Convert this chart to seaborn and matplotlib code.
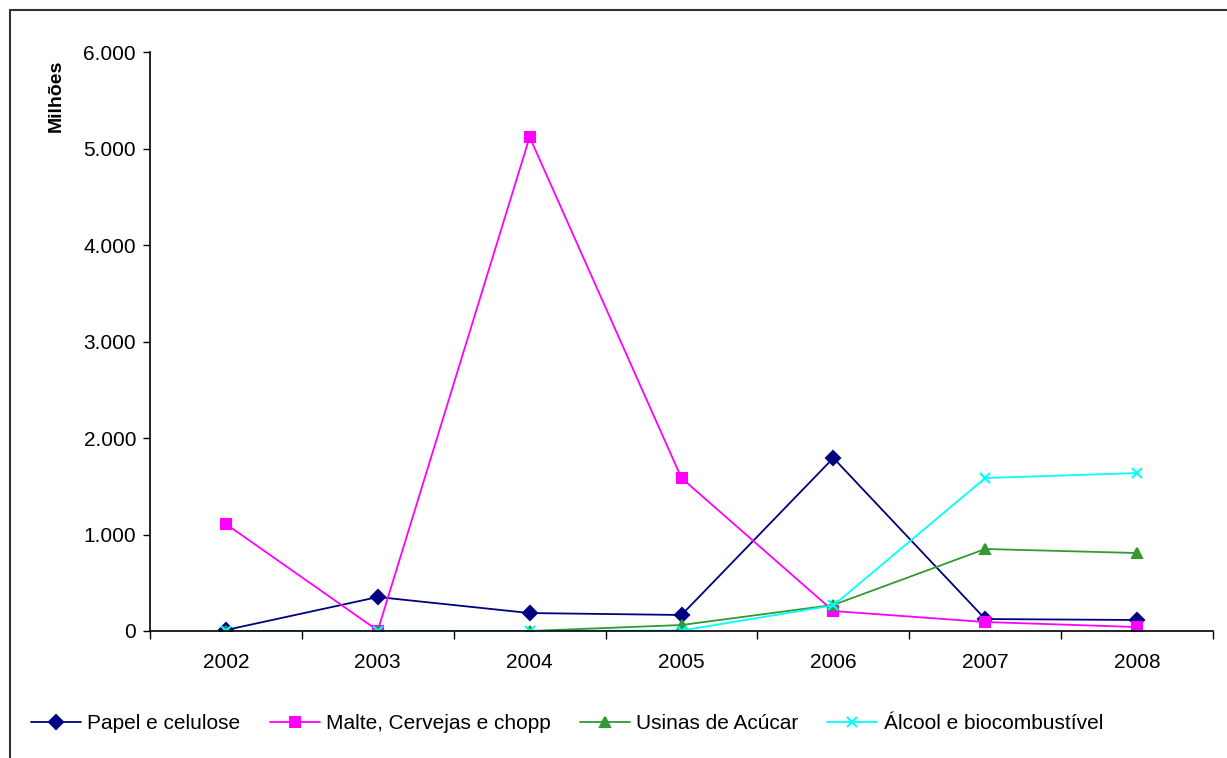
import pandas as pd
import matplotlib.pyplot as plt
import matplotlib.patches as mpatches
from matplotlib.ticker import FuncFormatter
import seaborn as sns

years = ['2002', '2003', '2004', '2005', '2006', '2007', '2008']
series_names = ['Papel e celulose', 'Malte, Cervejas e chopp', 'Usinas de Acúcar', 'Álcool e biocombustível']
papel = [10, 352, 186, 166, 1793, 124, 114]
malte = [1109, 5, 5119, 1585, 207, 93, 41]
usinas = [0, 0, 0, 62, 270, 850, 808]
alcool = [0, 0, 0, 5, 265, 1585, 1637]

colors = ['#000080', '#FF00FF', '#339933', '#00FFFF']
markers = ['D', 's', '^', 'x']

sns.set_style('white')
plt.rcParams['font.family'] = ['Liberation Sans', 'DejaVu Sans']

fig = plt.figure(figsize=(12.27, 7.58), dpi=100)
ax = fig.add_axes([150 / 1227, 1 - 631 / 758, (1213 - 150) / 1227, (631 - 52) / 758])

pos = list(range(len(years)))
for name, vals, c, m in zip(series_names, [papel, malte, usinas, alcool], colors, markers):
    sns.lineplot(x=pos, y=vals, color=c, marker=m, markersize=7, linewidth=1.3,
                 markeredgecolor=c, markeredgewidth=1.5, ax=ax, label=name, legend=False)

ax.set_xlim(-0.5, 6.5)
ax.set_ylim(0, 6000)
ax.set_yticks(range(0, 6001, 1000))
ax.yaxis.set_major_formatter(FuncFormatter(lambda v, p: f'{int(v):,}'.replace(',', '.')))
ax.set_xticks(pos)
ax.set_xticklabels(years)
ax.set_xticks([i + 0.5 for i in range(-1, 7)], minor=True)
ax.tick_params(axis='x', which='major', bottom=True, length=0, pad=16, labelsize=15)
ax.tick_params(axis='x', which='minor', bottom=True, length=6, direction='out', width=1,
               color='black')
ax.tick_params(axis='y', left=True, length=5, direction='out', width=1, labelsize=15,
               pad=5, color='black')
for lbl in ax.get_yticklabels() + ax.get_xticklabels():
    lbl.set_color('black')

sns.despine(ax=ax)
ax.spines['left'].set_color('black')
ax.spines['bottom'].set_color('black')
ax.spines['left'].set_linewidth(1.2)
ax.spines['bottom'].set_linewidth(1.2)
ax.set_xlabel('')
ax.set_ylabel('Milhões', fontsize=14, fontweight='bold', color='black')
ax.yaxis.set_label_coords(-0.08, 0.925)

handles = [plt.Line2D([], [], color=c, marker=m, markersize=7, linewidth=1.3,
                      markeredgecolor=c, markeredgewidth=1.5)
           for c, m in zip(colors, markers)]
fig.legend(handles, series_names, loc='center left', bbox_to_anchor=(0.010, 0.045),
           ncol=4, frameon=False, fontsize=15, handlelength=2.4, handletextpad=0.3,
           columnspacing=1.4, labelcolor='black')

border = mpatches.Rectangle((10 / 1227, -0.05), 1.1, 1 - 10 / 758 + 0.05,
                            transform=fig.transFigure, fill=False,
                            edgecolor='#333333', linewidth=1.5)
fig.patches.append(border)

fig.savefig('out.png', dpi=100)
